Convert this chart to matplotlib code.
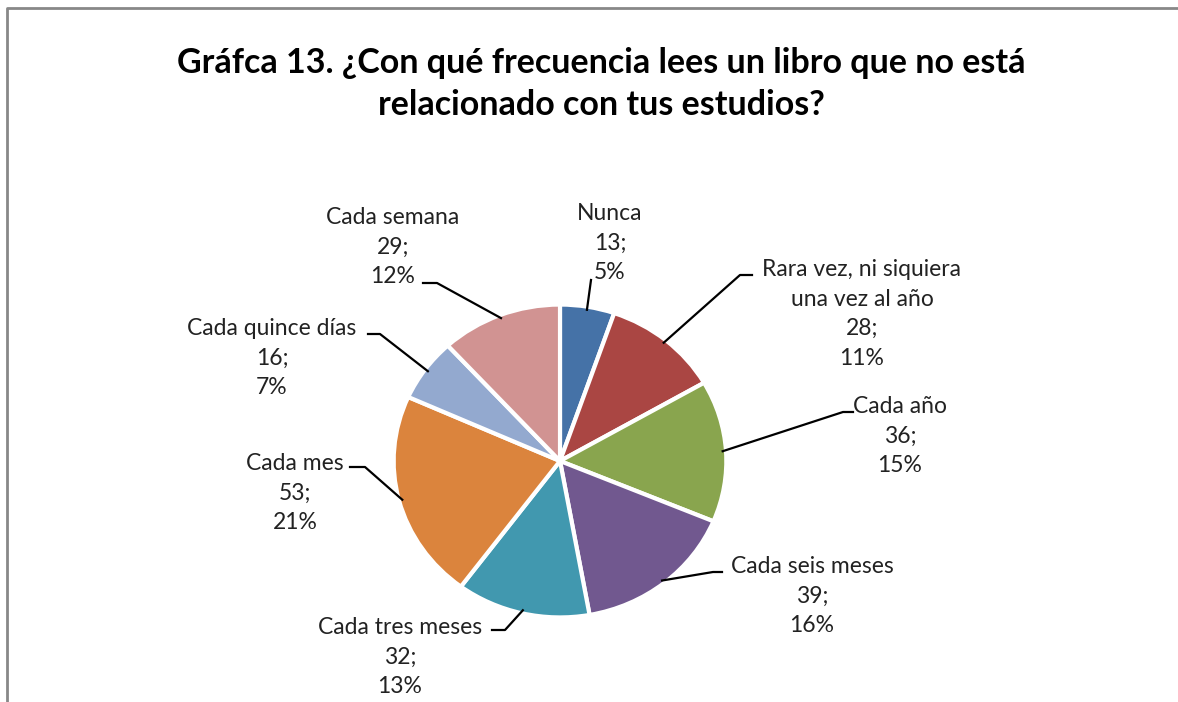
import numpy as np
import matplotlib.pyplot as plt
from matplotlib.lines import Line2D

labels = ['Nunca', 'Rara vez, ni siquiera\nuna vez al año', 'Cada año', 'Cada seis meses',
          'Cada tres meses', 'Cada mes', 'Cada quince días', 'Cada semana']
values = [13, 28, 36, 39, 32, 53, 16, 29]
percents = [5, 11, 15, 16, 13, 21, 7, 12]
colors = ['#4572A7', '#AA4643', '#89A54E', '#71588F', '#4198AF', '#DB843D', '#93A9CF', '#D19392']
title = 'Gráfca 13. ¿Con qué frecuencia lees un libro que no está\nrelacionado con tus estudios?'

# label layout in image pixels (y down): text centre, leader elbow, leader end
text_pos = [(610, 243), (862, 314), (900, 436), (812, 596), (400, 657), (295, 493), (272, 358), (393, 247)]
elbows = [None, (740, 275), (843, 412), (713, 572), (505, 630), (365, 467), (380, 334), (437, 283)]
ends = [(591, 280), (752, 275), (853, 412), (722, 572), (492, 630), (350, 467), (368, 334), (423, 283)]

plt.rcParams['font.family'] = ['Lato', 'DejaVu Sans']

W, H = 1178, 702
fig = plt.figure(figsize=(W / 100, H / 100), dpi=100)

cx, cy, rx, ry = 560, 461, 168, 158
ax = fig.add_axes([(cx - rx) / W, (H - cy - ry) / H, 2 * rx / W, 2 * ry / H])
wedges, _ = ax.pie(values, colors=colors, startangle=90, counterclock=False,
                   wedgeprops=dict(edgecolor='white', linewidth=3))
ax.set_aspect('auto')
ax.set_xlim(-1.01, 1.01)
ax.set_ylim(-1.01, 1.01)


def fig_xy(p):
    return p[0] / W, 1 - p[1] / H


for i, w in enumerate(wedges):
    ang = np.deg2rad((w.theta1 + w.theta2) / 2)
    r = 0.98
    ax_pt = ax.transData.transform((r * np.cos(ang), r * np.sin(ang)))
    anchor = fig.transFigure.inverted().transform(ax_pt)
    pts = [tuple(anchor)]
    if elbows[i] is not None:
        pts.append(fig_xy(elbows[i]))
    pts.append(fig_xy(ends[i]))
    xs = [p[0] for p in pts]
    ys = [p[1] for p in pts]
    fig.add_artist(Line2D(xs, ys, transform=fig.transFigure, color='black', lw=1.6))
    tx, ty = fig_xy(text_pos[i])
    fig.text(tx, ty, '%s\n%d;\n%d%%' % (labels[i], values[i], percents[i]),
             ha='center', va='center', multialignment='center',
             fontsize=16.5, color='#222222', linespacing=1.5)

fig.text(601 / W, 1 - 84 / H, title, ha='center', va='center', fontsize=24.5,
         fontweight='bold', color='black', linespacing=1.38)

# chart border (top and left edges visible)
fig.add_artist(Line2D([7 / W, 7 / W, 1], [0, 1 - 8 / H, 1 - 8 / H],
                      transform=fig.transFigure, color='#888888', lw=2))

fig.savefig('out.png', dpi=100)
